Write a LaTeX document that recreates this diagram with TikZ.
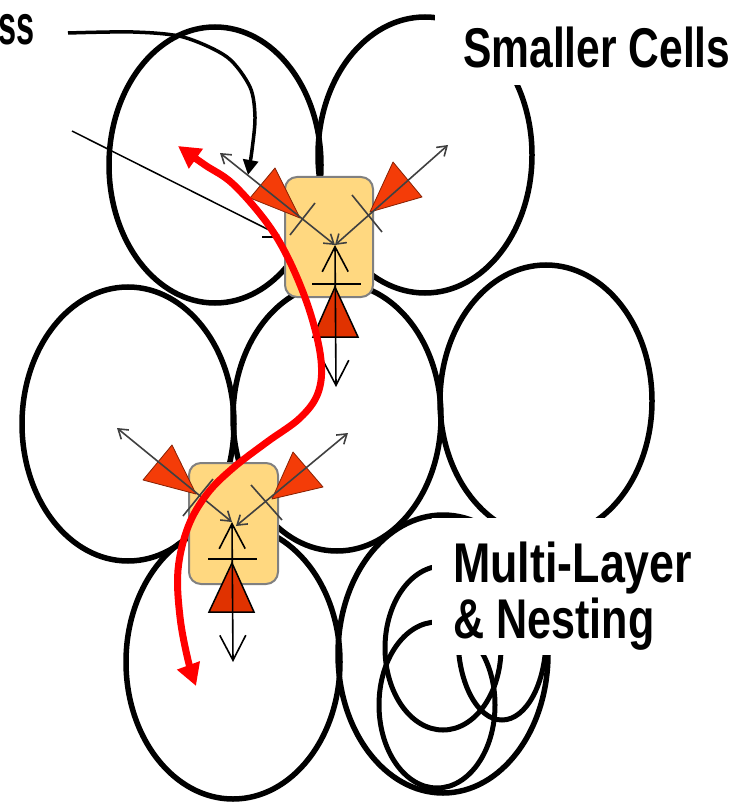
\documentclass[tikz,border=0pt]{standalone}
\usepackage{fontspec}
\setmainfont{Liberation Sans}
\usetikzlibrary{arrows.meta}
\definecolor{boxfill}{HTML}{FFD880}
\definecolor{boxline}{HTML}{808080}
\definecolor{tri}{HTML}{F43C08}
\definecolor{tridark}{HTML}{E03200}
\definecolor{garr}{HTML}{404040}
\begin{document}
\begin{tikzpicture}[x=1pt,y=-1pt,
 cell/.style={draw=black,line width=5.5pt},
 ncell/.style={draw=black,line width=5pt},
 lbl/.style={anchor=base west,inner sep=0pt,font=\fontsize{56}{56}\selectfont\bfseries},
 obox/.style={fill=boxfill,draw=boxline,line width=2pt,rounded corners=12pt},
 dtri/.style={fill=tri,draw=tri!55!black,line width=0.8pt,line join=round},
 vtri/.style={fill=tridark,draw=black,line width=1.5pt},
 garrow/.style={draw=garr,line width=1.6pt,{Straight Barb[length=9pt,width=12pt]}-{Straight Barb[length=9pt,width=12pt]}},
 varrow/.style={draw=black,line width=1.6pt,{Straight Barb[length=25pt,width=26pt]}-{Straight Barb[length=25pt,width=26pt]}},
 bar/.style={draw=black,line width=1.6pt},
 gbar/.style={draw=garr,line width=1.6pt},
 route/.style={draw=red,line width=7pt,{Triangle[length=22pt,width=23pt]}-{Triangle[length=22pt,width=23pt]}},
]
\useasboundingbox (0,0) rectangle (747,802);
% cells
\draw[cell] (215,165) ellipse [x radius=106pt, y radius=138pt];
\draw[cell] (425,155) ellipse [x radius=107pt, y radius=138pt];
\draw[cell] (128,424) ellipse [x radius=106pt, y radius=137pt];
\draw[cell] (337,417) ellipse [x radius=104pt, y radius=134pt];
\draw[cell] (546,401) ellipse [x radius=106pt, y radius=136pt];
\draw[cell] (233,662) ellipse [x radius=107pt, y radius=137pt];
\draw[cell] (443,654) ellipse [x radius=105pt, y radius=139pt];
\draw[ncell] (443,648) ellipse [x radius=58pt, y radius=82pt];
\draw[ncell] (437,705) ellipse [x radius=58pt, y radius=83pt];
\draw[ncell] (502,638) ellipse [x radius=44pt, y radius=82pt];
% label backgrounds
\fill[white] (435,-5) rectangle (752,85);
\fill[white] (432,518) rectangle (752,655);
% labels
\node[lbl] (t1) at (463,68) {\scalebox{0.76}[1]{Smaller Cells}};
\node[lbl] (t2) at (453,582) {\scalebox{0.8}[1]{Multi-Layer}};
\node[lbl] (t3) at (453,638) {\scalebox{0.77}[1]{\& Nesting}};
\node[lbl,anchor=base east] (t0) at (35,45) {\scalebox{0.58}[1]{ss}};
% boxes
\draw[obox] (285,177) rectangle (373,297);
\draw[obox] (189,463) rectangle (278,584);
% box 1 internals
\coordinate (P1) at (335,245);
\coordinate (LT1) at (220,153);
\coordinate (RT1) at (448,145);
\coordinate (B1) at (336,387);
\filldraw[dtri] (275,168) -- (250,198) -- (300,218) -- cycle;
\filldraw[dtri] (393,162) -- (422,197) -- (370,212) -- cycle;
\filldraw[vtri] (335,287) -- (313,337) -- (358,337) -- cycle;
\draw[garrow] (LT1) -- (P1);
\draw[garrow] (RT1) -- (P1);
\draw[gbar] (315,203) -- (290,235);
\draw[gbar] (352,195) -- (382,232);
\draw[bar] (312,284) -- (361,284);
\draw[varrow] (B1) -- (P1);
% box 2 internals
\coordinate (P2) at (232,522);
\coordinate (P2r) at (236,526);
\coordinate (LT2) at (117,428);
\coordinate (RT2) at (348,433);
\coordinate (B2) at (233,662);
\filldraw[dtri] (172,445) -- (143,480) -- (196,494) -- cycle;
\filldraw[dtri] (293,452) -- (323,487) -- (272,499) -- cycle;
\filldraw[vtri] (232,563) -- (209,612) -- (254,612) -- cycle;
\draw[garrow] (LT2) -- (P2);
\draw[garrow] (RT2) -- (P2r);
\draw[gbar] (213,479) -- (183,516);
\draw[gbar] (251,485) -- (282,520);
\draw[bar] (208,559) -- (257,559);
\draw[varrow] (B2) -- (P2);
% pointer lines
\coordinate (s0) at (68,33);
\draw[line width=3.5pt,-{Triangle[length=15pt,width=15pt]}] plot[smooth] coordinates {(68,33) (133,32) (183,37) (227,57) (250,87) (255,117) (252,150) (248,175)};
\coordinate (s1) at (72,131);
\coordinate (s2) at (279,235);
\draw[line width=1.5pt] (s1) -- (s2);
\draw[line width=1.5pt] (262,237) -- (279,237);
% route
\draw[route] plot[smooth, tension=0.6] coordinates {(178,146) (205,165) (233,184) (267,223) (290,262) (310,312) (321,360) (318,393) (300,418) (267,442) (233,468) (207,494) (188,527) (178,570) (180,617) (188,660) (196,686)};
\end{tikzpicture}
\end{document}
